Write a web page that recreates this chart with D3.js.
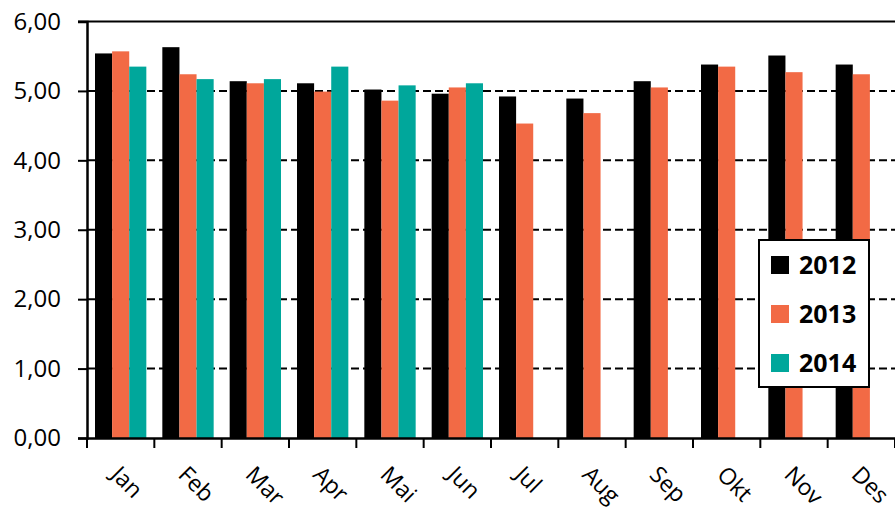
<!DOCTYPE html>
<html><head><meta charset="utf-8">
<script src="https://cdn.jsdelivr.net/npm/d3@7"></script>
<style>body{margin:0;background:#fff}svg{display:block}</style>
</head><body><svg id="c" width="895" height="510"></svg>
<script>
const months = ["Jan","Feb","Mar","Apr","Mai","Jun","Jul","Aug","Sep","Okt","Nov","Des"];
const years = ["2012","2013","2014"];
const v2012 = [5.54,5.63,5.14,5.11,5.02,4.96,4.92,4.89,5.14,5.38,5.51,5.38];
const v2013 = [5.57,5.24,5.11,4.99,4.86,5.05,4.53,4.68,5.05,5.35,5.27,5.24];
const v2014 = [5.35,5.17,5.17,5.35,5.08,5.11,null,null,null,null,null,null];
const yTicks = [0,1,2,3,4,5,6];
const colors = ["#000000","#F26A45","#00A79B"];

const series = [v2012, v2013, v2014];
const svg = d3.select("#c");
const font = "'Open Sans', 'Noto Sans', sans-serif";
const x0 = d3.scaleBand().domain(months).range([87, 895]).paddingInner(0).paddingOuter(0);
const x1 = d3.scaleBand().domain(years).range([8, x0.bandwidth()-8]).padding(0);
const y = d3.scaleLinear().domain([0,6]).range([438, 21.5]);

// gridlines
svg.append("g").selectAll("line").data(yTicks.filter(t=>t>0 && t<6)).join("line")
  .attr("x1",87).attr("x2",895).attr("y1",d=>y(d)).attr("y2",d=>y(d))
  .attr("stroke","#000").attr("stroke-width",2).attr("stroke-dasharray","8,4");
svg.append("line").attr("x1",78).attr("x2",895).attr("y1",y(6)).attr("y2",y(6))
  .attr("stroke","#000").attr("stroke-width",2);

// bars
const g = svg.append("g");
series.forEach((s,i)=>{
  g.append("g").selectAll("rect").data(s.map((v,j)=>({m:months[j],v})).filter(d=>d.v!=null)).join("rect")
    .attr("x",d=>x0(d.m)+x1(years[i])).attr("width",x1.bandwidth())
    .attr("y",d=>y(d.v)).attr("height",d=>y(0)-y(d.v))
    .attr("fill",colors[i]);
});

// y axis
const ya = svg.append("g").attr("transform","translate(87,0)")
  .call(d3.axisLeft(y).tickValues(yTicks).tickFormat(d=>d3.format(".2f")(d).replace(".",",")).tickSize(9).tickPadding(17));
ya.select(".domain").attr("stroke","#000").attr("stroke-width",2.5);
ya.selectAll(".tick line").attr("stroke","#000").attr("stroke-width",2);
ya.selectAll("text").attr("font-family",font).attr("font-size",24).attr("fill","#000");

// x axis
const xa = svg.append("g").attr("transform","translate(0,438)")
  .call(d3.axisBottom(x0).tickSize(0).tickFormat(""));
xa.select(".domain").attr("stroke","#000").attr("stroke-width",2.5);
svg.append("g").selectAll("line").data(d3.range(13)).join("line")
  .attr("x1",d=>87+d*x0.step()).attr("x2",d=>87+d*x0.step())
  .attr("y1",438).attr("y2",448).attr("stroke","#000").attr("stroke-width",2);
svg.append("g").selectAll("text").data(months).join("text")
  .attr("transform",d=>`translate(${x0(d)+x0.bandwidth()/2-11},${476}) rotate(45)`)
  .attr("font-family",font).attr("font-size",23).attr("fill","#000").text(d=>d);

// legend
const lg = svg.append("g").attr("transform","translate(759,240)");
lg.append("rect").attr("width",110).attr("height",147).attr("fill","#fff").attr("stroke","#000").attr("stroke-width",2);
years.forEach((yr,i)=>{
  const cy = 25 + i*49;
  lg.append("rect").attr("x",12).attr("y",cy-9).attr("width",18).attr("height",18).attr("fill",colors[i]);
  lg.append("text").attr("x",40).attr("y",cy+9).attr("font-family",font).attr("font-weight","bold")
    .attr("font-size",25).attr("fill","#000").text(yr);
});
</script></body></html>
